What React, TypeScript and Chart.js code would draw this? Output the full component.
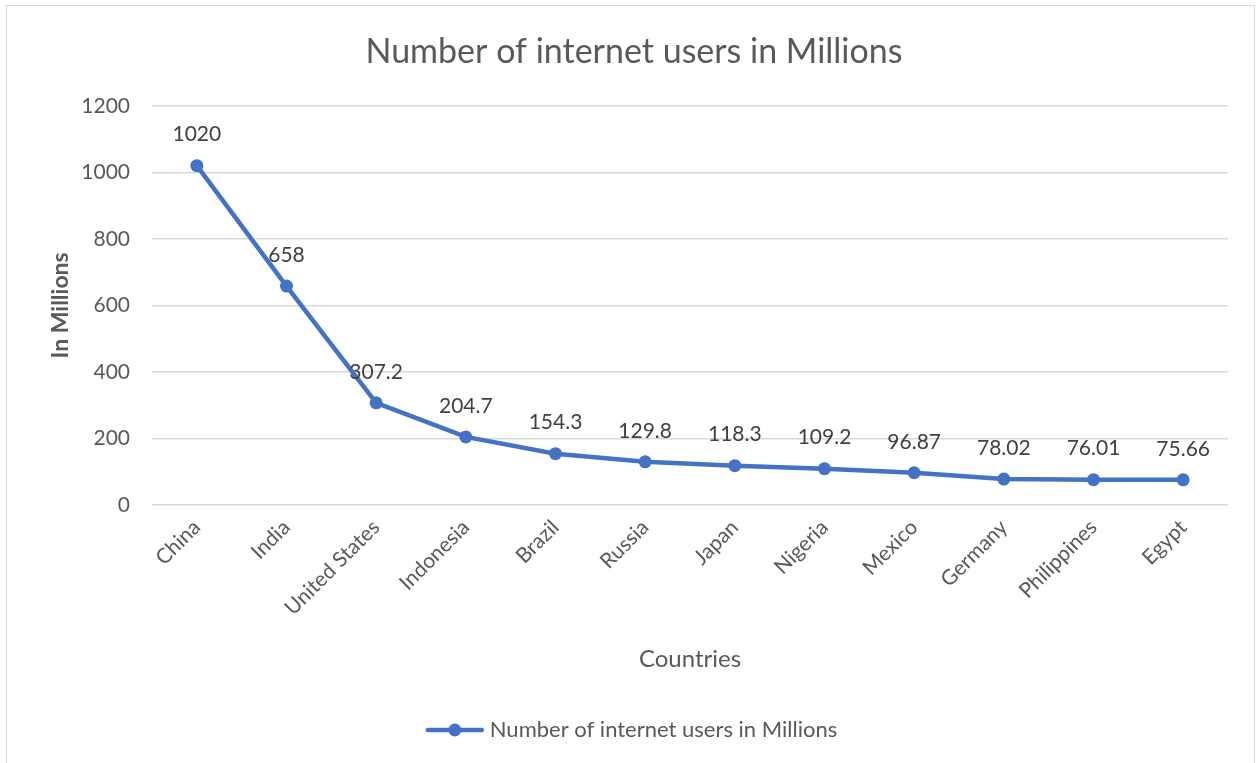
import React, { useEffect, useRef } from "react";
import { Chart, registerables } from "chart.js";

Chart.register(...registerables);

const countries = [
  "China", "India", "United States", "Indonesia", "Brazil", "Russia",
  "Japan", "Nigeria", "Mexico", "Germany", "Philippines", "Egypt",
];
const users = [1020, 658, 307.2, 204.7, 154.3, 129.8, 118.3, 109.2, 96.87, 78.02, 76.01, 75.66];
const valueLabels = ["1020", "658", "307.2", "204.7", "154.3", "129.8", "118.3", "109.2", "96.87", "78.02", "76.01", "75.66"];
const seriesName = "Number of internet users in Millions";
const chartTitle = "Number of internet users in Millions";
const yTitle = "In Millions";
const xTitle = "Countries";

const FONT = "Lato, 'Open Sans', sans-serif";
const BLUE = "#4472C4";
const GREY = "#595959";

function makeLegendIcon(): HTMLCanvasElement {
  const c = document.createElement("canvas");
  c.width = 62;
  c.height = 16;
  const ctx = c.getContext("2d")!;
  ctx.strokeStyle = BLUE;
  ctx.lineWidth = 4.5;
  ctx.lineCap = "round";
  ctx.beginPath();
  ctx.moveTo(4, 8);
  ctx.lineTo(58, 8);
  ctx.stroke();
  ctx.fillStyle = BLUE;
  ctx.beginPath();
  ctx.arc(31, 8, 6.5, 0, Math.PI * 2);
  ctx.fill();
  return c;
}

const dataLabelPlugin = {
  id: "dataLabels",
  afterDatasetsDraw(chart: any) {
    const ctx = chart.ctx;
    const meta = chart.getDatasetMeta(0);
    ctx.save();
    ctx.font = `21px ${FONT}`;
    ctx.fillStyle = "#404040";
    ctx.textAlign = "center";
    ctx.textBaseline = "middle";
    meta.data.forEach((pt: any, i: number) => {
      ctx.fillText(valueLabels[i], pt.x, pt.y - 31);
    });
    ctx.restore();
  },
};

export default function App() {
  const ref = useRef<HTMLCanvasElement | null>(null);
  useEffect(() => {
    if (!ref.current) return;
    const chart = new Chart(ref.current, {
      type: "line",
      data: {
        labels: countries,
        datasets: [
          {
            label: seriesName,
            data: users,
            borderColor: BLUE,
            backgroundColor: BLUE,
            borderWidth: 4.5,
            pointRadius: 6.5,
            pointHoverRadius: 6.5,
            pointBackgroundColor: BLUE,
            pointBorderWidth: 0,
            tension: 0,
          },
        ],
      },
      options: {
        responsive: false,
        animation: false,
        layout: { padding: { left: 40, right: 29, top: 0, bottom: 12 } },
        plugins: {
          title: {
            display: true,
            text: chartTitle,
            color: GREY,
            font: { family: FONT, size: 34, weight: "normal" },
            padding: { top: 32, bottom: 33 },
          },
          legend: {
            position: "bottom",
            labels: {
              usePointStyle: true,
              pointStyle: makeLegendIcon(),
              pointStyleWidth: 48,
              color: GREY,
              font: { family: FONT, size: 22 },
              padding: 10,
            },
          },
          tooltip: { enabled: false },
        },
        scales: {
          x: {
            offset: true,
            grid: { display: false, drawTicks: false },
            border: { display: false },
            ticks: {
              color: GREY,
              font: { family: FONT, size: 21 },
              maxRotation: 45,
              minRotation: 45,
              padding: 10,
            },
            title: {
              display: true,
              text: xTitle,
              color: GREY,
              font: { family: FONT, size: 24 },
              padding: { top: 4, bottom: 35.6 },
            },
            afterFit: (scale: any) => {
              scale.height = 204;
            },
          },
          y: {
            min: 0,
            max: 1200,
            grid: { color: "#d9d9d9", lineWidth: 1.5, drawTicks: false },
            border: { display: false },
            ticks: {
              stepSize: 200,
              color: GREY,
              font: { family: FONT, size: 21 },
              padding: 22,
              callback: (v: any) => String(v),
            },
            title: {
              display: true,
              text: yTitle,
              color: GREY,
              font: { family: FONT, size: 23, weight: "bold" },
              padding: { top: 7, bottom: 0 },
            },
            afterFit: (scale: any) => {
              scale.width = 112;
            },
          },
        },
      },
      plugins: [dataLabelPlugin],
    });
    return () => chart.destroy();
  }, []);

  return (
    <div style={{ position: "fixed", left: 0, top: 0, width: 1257, height: 763, background: "#fff" }}>
      <div
        style={{
          position: "absolute",
          left: 6,
          top: 5,
          width: 1249,
          height: 800,
          border: "1px solid #d9d9d9",
          boxSizing: "border-box",
        }}
      />
      <canvas ref={ref} width={1257} height={763} style={{ position: "absolute", left: 0, top: 0 }} />
    </div>
  );
}
